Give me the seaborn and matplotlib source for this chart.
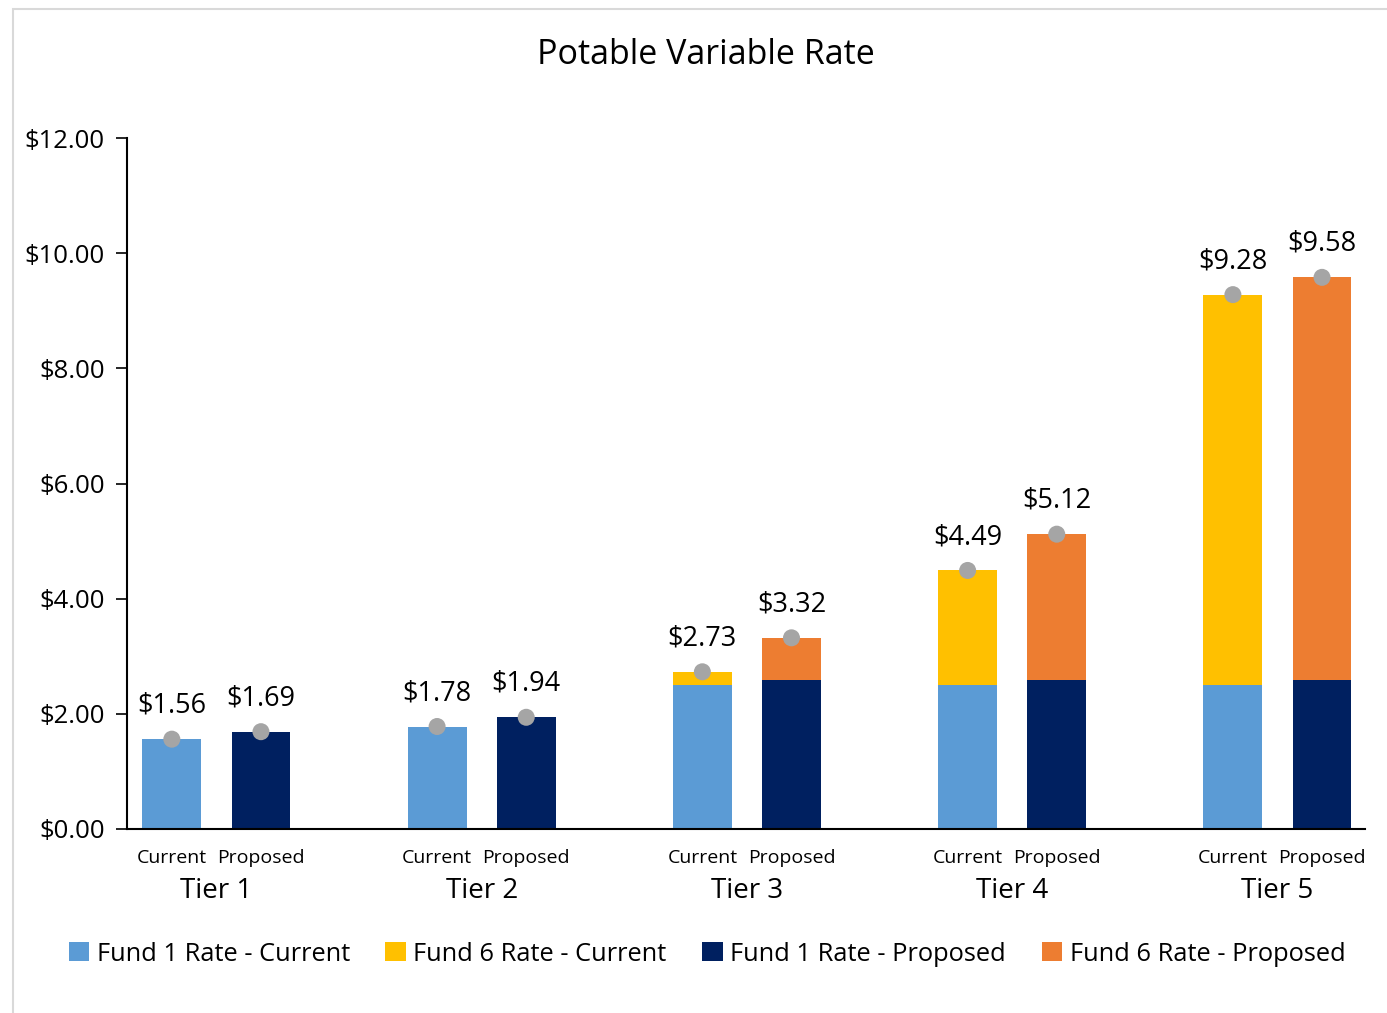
import numpy as np
import pandas as pd
import matplotlib
matplotlib.use("Agg")
import matplotlib.pyplot as plt
from matplotlib.patches import Rectangle, Patch
import seaborn as sns

tiers = ["Tier 1", "Tier 2", "Tier 3", "Tier 4", "Tier 5"]
scenarios = ["Current", "Proposed"]
fund1_current = [1.56, 1.78, 2.50, 2.50, 2.50]
fund6_current = [0.00, 0.00, 0.23, 1.99, 6.78]
fund1_proposed = [1.69, 1.94, 2.59, 2.59, 2.59]
fund6_proposed = [0.00, 0.00, 0.73, 2.53, 6.99]
total_current = [1.56, 1.78, 2.73, 4.49, 9.28]
total_proposed = [1.69, 1.94, 3.32, 5.12, 9.58]
yticks = [0, 2, 4, 6, 8, 10, 12]
legend_labels = ["Fund 1 Rate - Current", "Fund 6 Rate - Current",
                 "Fund 1 Rate - Proposed", "Fund 6 Rate - Proposed"]

c_f1c, c_f6c, c_f1p, c_f6p = "#5b9bd5", "#ffc000", "#002060", "#ed7d31"

sns.set_theme(style="white")
plt.rcParams["font.family"] = ["Open Sans", "DejaVu Sans"]
plt.rcParams["text.color"] = "black"
plt.rcParams["xtick.color"] = "black"
plt.rcParams["ytick.color"] = "black"

df = pd.DataFrame({
    "tier": tiers * 2,
    "scenario": ["Current"] * 5 + ["Proposed"] * 5,
    "fund1": fund1_current + fund1_proposed,
    "fund6": fund6_current + fund6_proposed,
    "total": total_current + total_proposed,
})

fig = plt.figure(figsize=(13.87, 10.13), dpi=100)
ax = fig.add_axes([127/1387, 1-829/1013, (1365-127)/1387, (829-138)/1013])

W = 0.672
GAP = 0.34
sns.barplot(data=df, x="tier", y="total", hue="scenario", order=tiers,
            hue_order=scenarios, palette=[c_f6c, c_f6p], width=W, gap=GAP,
            dodge=True, ax=ax, legend=False, saturation=1, errorbar=None,
            linewidth=0)
sns.barplot(data=df, x="tier", y="fund1", hue="scenario", order=tiers,
            hue_order=scenarios, palette=[c_f1c, c_f1p], width=W, gap=GAP,
            dodge=True, ax=ax, legend=False, saturation=1, errorbar=None,
            linewidth=0)

off = W / 4
tier_idx = np.arange(len(tiers))
df["xpos"] = np.concatenate([tier_idx - off, tier_idx + off])
sns.scatterplot(data=df, x="xpos", y="total", color="#a5a5a5", s=150,
                edgecolor="none", ax=ax, zorder=5, legend=False)

for _, r in df.iterrows():
    ax.annotate(f"${r['total']:.2f}", (r["xpos"], r["total"]),
                xytext=(0, 14), textcoords="offset points",
                ha="center", va="bottom", fontsize=19.5, color="black")

ax.set_xlim(-0.337, 4.33)
ax.set_ylim(0, 12)
ax.set_yticks(yticks)
ax.set_yticklabels([f"${v:.2f}" for v in yticks], fontsize=18.5)
ax.set_xticks([])
ax.set_xlabel("")
ax.set_ylabel("")
for s in ["top", "right"]:
    ax.spines[s].set_visible(False)
for s in ["left", "bottom"]:
    ax.spines[s].set_color("black")
    ax.spines[s].set_linewidth(1.5)
ax.tick_params(axis="y", which="major", left=True, length=8, width=1.2,
               color="black", pad=8, labelcolor="black")

trans = ax.get_xaxis_transform()
for i, t in enumerate(tiers):
    ax.text(i - off, -0.042, "Current", transform=trans, ha="center",
            va="center", fontsize=14, color="black")
    ax.text(i + off, -0.042, "Proposed", transform=trans, ha="center",
            va="center", fontsize=14, color="black")
    ax.text(i, -0.0897, t, transform=trans, ha="center", va="center",
            fontsize=20, color="black")

fig.text(706/1387, 1-55/1013, "Potable Variable Rate", ha="center",
         va="center", fontsize=24.5, color="black")

handles = [Patch(facecolor=c, edgecolor="none") for c in [c_f1c, c_f6c, c_f1p, c_f6p]]
fig.legend(handles, legend_labels, loc="center", ncol=4,
           bbox_to_anchor=(707/1387, 1-954/1013), frameon=False,
           fontsize=18.3, handlelength=0.8, handleheight=0.8,
           handletextpad=0.3, columnspacing=1.4, labelcolor="black")

fig.patches.append(Rectangle((13/1387, -0.05), 1.2, 1-9/1013+0.05,
                             transform=fig.transFigure, fill=False,
                             edgecolor="#d9d9d9", linewidth=1.5))

fig.savefig("out.png", dpi=100)
